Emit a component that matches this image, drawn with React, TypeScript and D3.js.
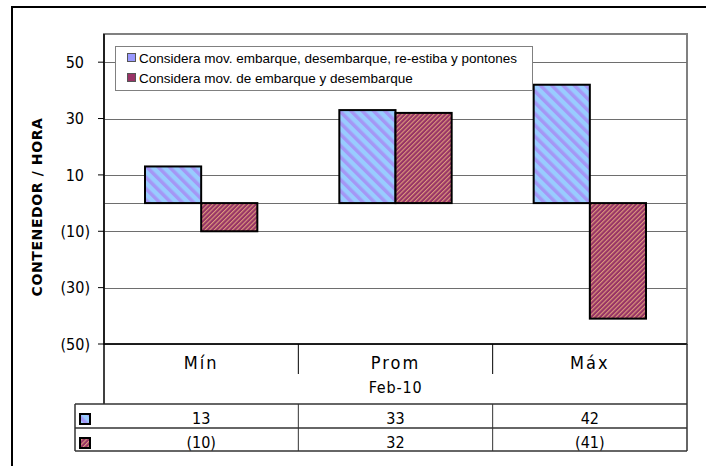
import React from "react";
import * as d3 from "d3";

// chart data
const categories = ["Mín", "Prom", "Máx"];
const seriesNames = [
  "Considera mov. embarque, desembarque, re-estiba y pontones",
  "Considera mov. de embarque y desembarque",
];
const serieA = [13, 33, 42];
const serieB = [-10, 32, -41];
const yTicks = [-50, -30, -10, 10, 30, 50];
const periodLabel = "Feb-10";
const axisTitle = "CONTENEDOR / HORA";

const W = 706;
const H = 466;
const plot = { left: 104, right: 687, top: 34, bottom: 344 };
const table = { left: 75, headBottom: 404, row1: 428, row2: 451 };

const fmt = (v: number) => (v < 0 ? `(${Math.abs(v)})` : `${v}`);

export default function App() {
  const y = d3.scaleLinear().domain([-50, 60]).range([plot.bottom, plot.top]);
  const x = d3.scaleBand<string>().domain(categories).range([plot.left, plot.right]).padding(0);
  const xs = d3
    .scaleBand<string>()
    .domain(["a", "b"])
    .range([0, x.bandwidth()])
    .paddingInner(0)
    .paddingOuter(0.73);

  const series = [
    { key: "a", values: serieA, fill: "url(#patBlue)", solid: "#9999ff" },
    { key: "b", values: serieB, fill: "url(#patRed)", solid: "#993366" },
  ];

  const font = "'DejaVu Sans Condensed', 'DejaVu Sans', sans-serif";
  const grid = "#6e6e6e";

  return (
    <div style={{ position: "absolute", left: 0, top: 0 }}>
      <svg width={W} height={H} style={{ display: "block", background: "#fff" }}>
        <defs>
          <pattern id="patBlue" patternUnits="userSpaceOnUse" width={8} height={8} patternTransform="rotate(-45)">
            <rect width={8} height={8} fill="#99ccff" />
            <rect width={3.5} height={8} fill="#a497f5" />
          </pattern>
          <pattern id="patRed" patternUnits="userSpaceOnUse" width={3.2} height={3.2} patternTransform="rotate(45)">
            <rect width={3.2} height={3.2} fill="#973366" />
            <rect width={1.1} height={3.2} fill="#dc9a7c" />
          </pattern>
        </defs>

        {/* outer frame */}
        <rect x={12} y={7} width={800} height={600} fill="none" stroke="#000" strokeWidth={2} />

        {/* plot area border */}
        <rect
          x={plot.left}
          y={plot.top}
          width={plot.right - plot.left}
          height={plot.bottom - plot.top}
          fill="none"
          stroke="#808080"
          strokeWidth={2}
        />

        {/* gridlines */}
        {[...yTicks, 0].map((t) => (
          <line
            key={`g${t}`}
            x1={plot.left}
            x2={plot.right}
            y1={Math.round(y(t)) + 0.5}
            y2={Math.round(y(t)) + 0.5}
            stroke={grid}
            strokeWidth={1}
          />
        ))}

        {/* bars */}
        {series.map((s) =>
          categories.map((c, i) => {
            const v = s.values[i];
            const x0 = (x(c) ?? 0) + (xs(s.key) ?? 0);
            const y0 = y(Math.max(0, v));
            const h = Math.abs(y(v) - y(0));
            return (
              <rect
                key={`${s.key}${c}`}
                x={x0}
                y={y0}
                width={xs.bandwidth()}
                height={h}
                fill={s.fill}
                stroke="#000"
                strokeWidth={2}
              />
            );
          })
        )}

        {/* y axis */}
        <line x1={plot.left} x2={plot.left} y1={plot.top} y2={table.headBottom} stroke="#000" strokeWidth={1.5} />
        {yTicks.map((t) => (
          <g key={`t${t}`}>
            <line x1={plot.left - 6} x2={plot.left} y1={y(t)} y2={y(t)} stroke="#000" strokeWidth={1} />
            <text
              x={t < 0 ? 90 : 84}
              y={y(t)}
              dy="0.36em"
              textAnchor="end"
              fontFamily={font}
              fontSize={16}
              fill="#000"
            >
              {fmt(t)}
            </text>
          </g>
        ))}
        <text
          transform="translate(42,207) rotate(-90)"
          textAnchor="middle"
          fontFamily="'DejaVu Sans', sans-serif"
          fontWeight="bold"
          fontSize={14}
          letterSpacing={0.6}
          fill="#000"
        >
          {axisTitle}
        </text>

        {/* legend */}
        <rect x={115.5} y={46.5} width={417} height={44} fill="#fff" stroke="#808080" strokeWidth={1} />
        {seriesNames.map((n, i) => (
          <g key={n} transform={`translate(127,${53 + i * 20})`}>
            <rect x={0.5} y={0.5} width={8} height={8} fill={series[i].solid} stroke="#555" strokeWidth={1} />
            <text x={12} y={9.5} fontFamily="'Liberation Sans', Arial, sans-serif" fontSize={13.5} fill="#000">
              {n}
            </text>
          </g>
        ))}

        {/* data table */}
        <line x1={plot.left} x2={plot.right} y1={plot.bottom} y2={plot.bottom} stroke="#000" strokeWidth={1.5} />
        <line x1={plot.right} x2={plot.right} y1={plot.bottom} y2={table.row2} stroke="#333" strokeWidth={1.5} />
        {categories.slice(1).map((c) => (
          <line key={`d${c}`} x1={x(c)} x2={x(c)} y1={plot.bottom} y2={374} stroke="#000" strokeWidth={1} />
        ))}
        {categories.map((c) => (
          <text
            key={`c${c}`}
            x={(x(c) ?? 0) + x.bandwidth() / 2}
            y={369}
            textAnchor="middle"
            fontFamily={font}
            fontSize={18}
            letterSpacing={2}
            fill="#000"
          >
            {c}
          </text>
        ))}
        <text
          x={(plot.left + plot.right) / 2}
          y={393}
          textAnchor="middle"
          fontFamily={font}
          fontSize={16}
          letterSpacing={0.8}
          fill="#000"
        >
          {periodLabel}
        </text>

        {[table.headBottom, table.row1, table.row2].map((ly) => (
          <line key={`r${ly}`} x1={table.left} x2={plot.right} y1={ly} y2={ly} stroke="#333" strokeWidth={1.5} />
        ))}
        <line x1={table.left} x2={table.left} y1={table.headBottom} y2={table.row2} stroke="#333" strokeWidth={1.5} />
        {categories.slice(1).map((c) => (
          <line
            key={`v${c}`}
            x1={x(c)}
            x2={x(c)}
            y1={table.headBottom}
            y2={table.row2}
            stroke="#333"
            strokeWidth={1}
          />
        ))}

        {series.map((s, si) => {
          const top = si === 0 ? table.headBottom : table.row1;
          return (
            <g key={`row${s.key}`}>
              <rect x={80} y={top + 10} width={10} height={10} fill={s.fill} stroke="#000" strokeWidth={2} />
              {categories.map((c, i) => (
                <text
                  key={`v${s.key}${c}`}
                  x={(x(c) ?? 0) + x.bandwidth() / 2}
                  y={top + 19.5}
                  textAnchor="middle"
                  fontFamily={font}
                  fontSize={16}
                  fill="#000"
                >
                  {fmt(s.values[i])}
                </text>
              ))}
            </g>
          );
        })}
      </svg>
    </div>
  );
}
